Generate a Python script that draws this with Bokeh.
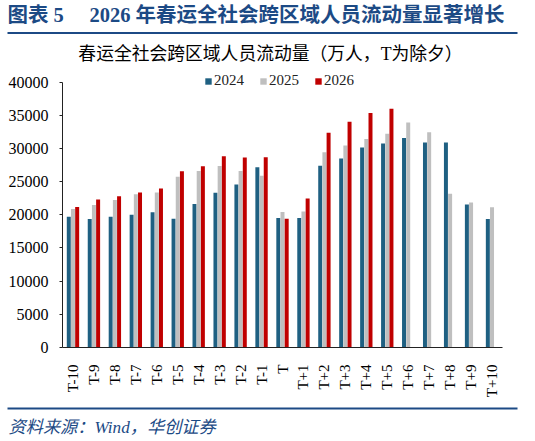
from bokeh.plotting import figure
from bokeh.models import ColumnDataSource, Label, FactorRange, Legend, LegendItem, Range1d, Plot
from bokeh.transform import dodge
from bokeh.layouts import column
from bokeh.embed import file_html
from bokeh.resources import INLINE
import math

categories = ["T-10", "T-9", "T-8", "T-7", "T-6", "T-5", "T-4", "T-3", "T-2", "T-1", "T",
              "T+1", "T+2", "T+3", "T+4", "T+5", "T+6", "T+7", "T+8", "T+9", "T+10"]
v2024 = [19700, 19360, 19700, 20000, 20390, 19410, 21620, 23330, 24560, 27160, 19510,
         19510, 27400, 28480, 30150, 30740, 31570, 30880, 30880, 21570, 19360]
v2025 = [20880, 21470, 22250, 23090, 23380, 25740, 26620, 27350, 26620, 25880, 20440,
         20490, 29410, 30440, 31420, 32210, 33920, 32450, 23190, 21860, 21130]
nan = float("nan")
v2026 = [21180, 22300, 22790, 23380, 23970, 26570, 27300, 28820, 28630, 28680, 19410,
         22450, 32350, 34020, 35340, 35980, nan, nan, nan, nan, nan]
y_ticks = [0, 5000, 10000, 15000, 20000, 25000, 30000, 35000, 40000]

NB = "\u00a0"
title_text = "图表 5" + NB * 5 + "2026 年春运全社会跨区域人员流动量显著增长"
subtitle_text = "春运全社会跨区域人员流动量（万人，T为除夕）"
source_text = "资料来源：Wind，华创证券"

BLUE = "#1f6082"
GRAY = "#bfbfbf"
RED = "#c00000"
NAVY = "#1c4a85"
SERIF = "Liberation Serif, Noto Sans CJK SC"

W = 535
TOP_H, MAIN_H, BOT_H = 66, 334, 41
HAS_ALIGN = "frame_align" in Plot.properties()


def blank(h):
    f = figure(width=W, height=h, x_range=Range1d(0, W), y_range=Range1d(h, 0),
               x_axis_type=None, y_axis_type=None, output_backend="svg",
               toolbar_location=None, min_border=0)
    f.outline_line_color = None
    f.grid.visible = False
    if HAS_ALIGN:
        f.frame_align = False
    return f


# ---------- header ----------
top = blank(TOP_H)
top.add_layout(Label(x=7, y=14, text=title_text, text_font=SERIF, text_font_style="bold",
                     text_font_size="20.5px", text_color=NAVY, text_baseline="middle",
                     text_align="left"))
top.segment(x0=[7], y0=[32.5], x1=[517], y1=[32.5], line_color=NAVY, line_width=2)
top.add_layout(Label(x=270, y=53, text=subtitle_text, text_font=SERIF,
                     text_font_size="17.8px", text_color="black", text_baseline="middle",
                     text_align="center"))

# ---------- main chart ----------
ML, MR, MT, MB = 62, 33, 0, 46
fh = MAIN_H - MT - MB          # 288 px
ytop = 40000 * fh / 272.0      # keep 40000 at 16 px below frame top

src = ColumnDataSource(dict(cat=categories, a=v2024, b=v2025, c=v2026))
p = figure(width=W, height=MAIN_H, x_range=FactorRange(*categories, range_padding=0),
           y_range=Range1d(0, ytop), output_backend="svg", toolbar_location=None,
           min_border_left=ML, min_border_right=MR, min_border_top=MT, min_border_bottom=MB)
p.outline_line_color = None
p.grid.visible = False
if HAS_ALIGN:
    p.frame_align = False

bw = 0.19
r1 = p.vbar(x=dodge("cat", -0.2, range=p.x_range), top="a", width=bw, source=src,
            fill_color=BLUE, line_color=None)
r2 = p.vbar(x=dodge("cat", 0.0, range=p.x_range), top="b", width=bw, source=src,
            fill_color=GRAY, line_color=None)
r3 = p.vbar(x=dodge("cat", 0.2, range=p.x_range), top="c", width=bw, source=src,
            fill_color=RED, line_color=None)

p.yaxis.ticker = y_ticks
p.yaxis.bounds = (0, 40000)
p.yaxis.major_label_text_font = "Liberation Serif"
p.yaxis.major_label_text_font_size = "16px"
p.yaxis.major_label_text_color = "black"
p.yaxis.major_tick_out = 3
p.yaxis.major_tick_in = 0
p.yaxis.minor_tick_line_color = None
p.yaxis.major_label_standoff = 11
p.yaxis.axis_line_color = "#222222"
p.yaxis.major_tick_line_color = "#222222"

p.xaxis.major_label_orientation = math.pi / 2
p.xaxis.major_label_text_font = "Liberation Serif"
p.xaxis.major_label_text_font_size = "15px"
p.xaxis.major_label_text_color = "black"
p.xaxis.major_tick_line_color = None
p.xaxis.minor_tick_line_color = None
p.xaxis.major_label_standoff = 11
p.xaxis.axis_line_color = "#222222"

legend = Legend(items=[LegendItem(label="2024", renderers=[r1]),
                       LegendItem(label="2025", renderers=[r2]),
                       LegendItem(label="2026", renderers=[r3])],
                orientation="horizontal", location=(142, 258),
                glyph_width=8, glyph_height=8, label_height=14, label_standoff=2,
                spacing=15, padding=0, margin=0, border_line_color=None,
                background_fill_alpha=0,
                label_text_font="Liberation Serif", label_text_font_size="15px",
                label_text_color="#222222", label_text_baseline="middle")
p.add_layout(legend, "center")

# ---------- footer ----------
bot = blank(BOT_H)
bot.segment(x0=[7], y0=[8], x1=[517], y1=[8], line_color=NAVY, line_width=2)
bot.add_layout(Label(x=8, y=27, text=source_text, text_font=SERIF, text_font_style="italic",
                     text_font_size="17.2px", text_color=NAVY, text_baseline="middle",
                     text_align="left"))

layout = column(top, p, bot, spacing=0)
open("out.html", "w").write(file_html(layout, INLINE))
